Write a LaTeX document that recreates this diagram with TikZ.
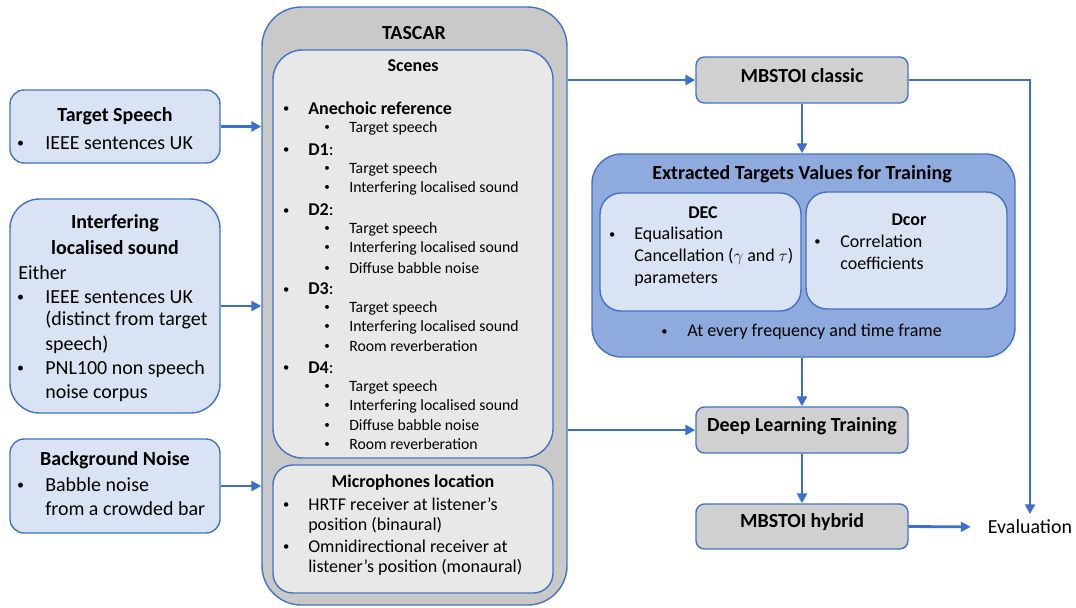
\documentclass[tikz,border=0pt]{standalone}
\usepackage{fontspec}
\setmainfont{Carlito}
\usepackage{tikz}
\usetikzlibrary{positioning, arrows.meta, calc, fit}

\definecolor{bordblue}{HTML}{4472C4}
\definecolor{arrblue}{HTML}{3A6FCF}
\definecolor{paleblue}{HTML}{DAE3F3}
\definecolor{midblue}{HTML}{8FAADC}
\definecolor{tascargrey}{HTML}{C9C9C9}
\definecolor{scenegrey}{HTML}{E8E8E8}
\definecolor{boxgrey}{HTML}{D0D0D0}

\newcommand{\fbig}{\fontsize{14.2pt}{17pt}\selectfont}
\newcommand{\fmed}{\fontsize{12.8pt}{15pt}\selectfont}
\newcommand{\fsml}{\fontsize{11.2pt}{13.5pt}\selectfont}
\newcommand{\bul}[1][13.5pt]{\llap{\raisebox{0.1em}{\scalebox{0.7}{\textbullet}}\hspace{#1}}}

\begin{document}
\begin{tikzpicture}[
    x=0.025cm, y=-0.025cm,
    box/.style={draw=bordblue, line width=1pt, inner sep=0pt},
    inbox/.style={box, fill=paleblue},
    greybox/.style={box, fill=boxgrey, rounded corners=6pt},
    arrow/.style={draw=arrblue, line width=2pt, -{Triangle[length=7pt, width=7pt]}},
    title/.style={font=\fbig\bfseries, inner sep=0pt},
    boxlabel/.style={title, yshift=3pt},
    head/.style={font=\fmed\bfseries, inner sep=0pt},
    item/.style={font=\fmed, inner sep=0pt, anchor=west},
    subitem/.style={font=\fsml, inner sep=0pt, anchor=west},
    lefttext/.style={font=\fbig, inner sep=0pt, anchor=west},
]
\useasboundingbox (0,0) rectangle (1076,607);

% Inputs on the left
\node[inbox, rounded corners=10pt, fit={(10,90) (220,163)}] (target) {};
\node[title] (targettitle) at (115,116) {Target Speech};
\node[lefttext] (target1) at (45,143) {\bul[15pt]IEEE sentences UK};

\node[inbox, rounded corners=21pt, fit={(10,199) (220,413)}] (interf) {};
\node[title] (interftitle1) at (115,223) {Interfering};
\node[title] (interftitle2) at (115,248) {localised sound};
\node[lefttext] (either) at (18,273) {Either};
\foreach \yy/\b/\txt in {297/1/IEEE sentences UK, 320/0/(distinct from target, 345/0/speech),
    369/1/PNL100 non speech, 393/0/noise corpus}
  \node[lefttext] (interf\yy) at (45,\yy) {\ifnum\b=1 \bul[15pt]\fi\txt};

\node[inbox, rounded corners=10pt, fit={(10,439) (220,533)}] (noise) {};
\node[title] (noisetitle) at (115,460) {Background Noise};
\node[lefttext] (noise1) at (45,485) {\bul[15pt]Babble noise};
\node[lefttext] (noise2) at (45,509) {from a crowded bar};

% TASCAR
\node[box, fill=tascargrey, rounded corners=28pt, fit={(262,7) (567,605)}] (tascar) {};
\node[title] (tascartitle) at (414,33) {TASCAR};

\node[box, fill=scenegrey, rounded corners=21pt, fit={(273,50) (553,458)}] (scenes) {};
\node[head] (scenestitle) at (413,66) {Scenes};
\node[item] (anech) at (308,108) {\bul\textbf{Anechoic reference}};
\foreach \yy/\dn in {150/D1, 210/D2, 289/D3, 368/D4}
  \node[item] (\dn) at (308,\yy) {\bul\textbf{\dn}:};
\foreach \yy/\txt in {128/Target speech, 169/Target speech, 188/Interfering localised sound,
    229/Target speech, 248/Interfering localised sound, 268/Diffuse babble noise,
    308/Target speech, 327/Interfering localised sound, 346/Room reverberation,
    387/Target speech, 406/Interfering localised sound, 425/Diffuse babble noise, 444/Room reverberation}
  \node[subitem] (sub\yy) at (349,\yy) {\bul[13.8pt]\txt};

\node[box, fill=scenegrey, rounded corners=14pt, fit={(273,465) (553,593)}] (mics) {};
\node[head] (micstitle) at (413,483) {Microphones location};
\node[item] (mic1) at (308,504) {\bul HRTF receiver at listener’s};
\node[item] (mic2) at (308,525) {position (binaural)};
\node[item] (mic3) at (308,546) {\bul Omnidirectional receiver at};
\node[item] (mic4) at (308,567) {listener’s position (monaural)};

% Right column
\node[greybox, fit={(696,57) (908,103)}, label={[boxlabel]center:MBSTOI classic}] (classic) {};

\node[box, fill=midblue, rounded corners=21pt, fit={(592,154) (1015,357)}] (extracted) {};
\node[title] (extractedtitle) at (802,174) {Extracted Targets Values for Training};

\node[inbox, rounded corners=15pt, fit={(600,193) (801,311)}] (dec) {};
\node[head] (dectitle) at (703,213) {DEC};
\node[item] (dec1) at (634,235) {\bul Equalisation};
\node[item] (dec2) at (634,257) {Cancellation ($\gamma$ and $\tau$)};
\node[item] (dec3) at (634,279) {parameters};

\node[inbox, rounded corners=15pt, fit={(806,192) (1007,309)}] (dcor) {};
\node[head] (dcortitle) at (909,220) {Dcor};
\node[item] (dcor1) at (840,241) {\bul[14pt]Correlation};
\node[item] (dcor2) at (840,263) {coefficients};

\node[item] (every) at (687,332) {\bul[14pt]At every frequency and time frame};

\node[greybox, fit={(696,407) (908,453)}, label={[boxlabel]center:Deep Learning Training}] (deep) {};
\node[greybox, fit={(696,504) (908,549)}, label={[boxlabel]center:MBSTOI hybrid}] (hybrid) {};

\node[font=\fbig, inner sep=0pt] (eval) at (1030,527) {Evaluation};

% Connections
\draw[arrow] (target.east) -- (target.east -| tascar.west);
\draw[arrow] (interf.east) -- (interf.east -| tascar.west);
\draw[arrow] (noise.east) -- (noise.east -| tascar.west);
\draw[arrow] (classic.west -| tascar.east) -- (classic.west);
\draw[arrow] (classic.south) -- (classic.south |- extracted.north);
\draw[arrow, shorten >=4pt] (classic.east) -| (eval.north);
\draw[arrow] (deep.north |- extracted.south) -- (deep.north);
\draw[arrow] (deep.west -| tascar.east) -- (deep.west);
\draw[arrow] (deep.south) -- (hybrid.north);
\draw[arrow, shorten >=12pt] (hybrid.east) -- (eval.west);

\end{tikzpicture}
\end{document}
